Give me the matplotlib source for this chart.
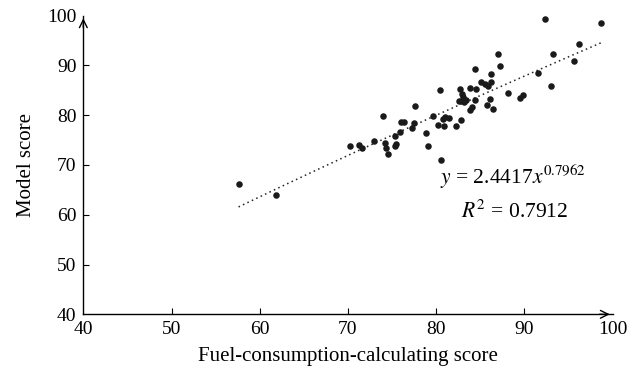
import numpy as np
import matplotlib
matplotlib.use("Agg")
import matplotlib.pyplot as plt

plt.rcParams["font.family"] = ["Liberation Serif", "DejaVu Serif"]
plt.rcParams["mathtext.fontset"] = "stix"

# fuel-consumption-calculating score (x) vs model score (y)
fuel_score = [57.6, 61.9, 70.2, 71.2, 71.6, 73.0, 74.0, 74.2, 74.3, 74.5,
              75.3, 75.4, 75.3, 75.9, 76.0, 76.4, 77.3, 77.5, 77.6, 78.9,
              79.1, 79.7, 80.2, 80.4, 80.6, 80.8, 80.9, 81.0, 81.5, 82.3,
              82.6, 82.7, 82.8, 82.9, 83.1, 83.2, 83.8, 83.8, 84.1, 84.4,
              84.4, 84.5, 85.1, 85.5, 85.8, 85.9, 86.1, 86.2, 86.2, 86.5,
              87.0, 87.2, 88.2, 89.5, 89.8, 91.6, 92.4, 93.0, 93.2, 95.6,
              96.2, 98.7, 83.4]
model_score = [66.2, 64.0, 73.7, 74.1, 73.4, 74.9, 79.9, 74.5, 73.3, 72.2,
               75.9, 74.3, 73.8, 76.6, 78.7, 78.7, 77.4, 78.4, 81.8, 76.4,
               73.9, 79.8, 78.0, 85.0, 70.9, 79.2, 77.9, 79.6, 79.4, 77.8,
               82.8, 85.2, 79.0, 84.2, 83.6, 82.7, 81.0, 85.4, 81.7, 89.3,
               83.0, 85.2, 86.7, 86.2, 82.0, 85.8, 83.2, 88.3, 86.6, 81.2,
               92.3, 89.9, 84.4, 83.4, 84.0, 88.5, 99.4, 85.8, 92.3, 90.9,
               94.2, 98.6, 83.0]

# power trendline y = a * x^b
fit_a = 2.4417
fit_b = 0.7962

fig = plt.figure(figsize=(6.27, 3.79), dpi=100)
ax = fig.add_axes([0.1329, 0.1707, 0.8440, 0.7883])

ax.scatter(fuel_score, model_score, s=22, color="#1a1a1a", zorder=3, linewidths=0)

xs = np.linspace(min(fuel_score), max(fuel_score), 200)
ax.plot(xs, fit_a * xs ** fit_b, color="#222222", lw=1.1, ls=(0, (1, 2.2)), zorder=2)

ax.set_xlim(40, 100)
ax.set_ylim(40, 100)
ax.set_xticks(range(40, 101, 10))
ax.set_yticks(range(40, 101, 10))
ax.tick_params(direction="in", length=4, width=0.8, labelsize=14, pad=5)

# no tick marks at the axis origin or under the arrow heads
for axis in [ax.xaxis, ax.yaxis]:
    ticks = axis.get_major_ticks()
    for t in (ticks[0], ticks[-1]):
        t.tick1line.set_visible(False)

for side in ["top", "right"]:
    ax.spines[side].set_visible(False)
for side in ["left", "bottom"]:
    ax.spines[side].set_linewidth(1.0)

# open arrow heads at the ends of both axes
ax.annotate("", xy=(1.0, 0), xytext=(0.97, 0), xycoords="axes fraction",
            arrowprops=dict(arrowstyle="->", lw=1.0, color="black", mutation_scale=14))
ax.annotate("", xy=(0, 1.0), xytext=(0, 0.95), xycoords="axes fraction",
            arrowprops=dict(arrowstyle="->", lw=1.0, color="black", mutation_scale=14))

ax.set_xlabel("Fuel-consumption-calculating score", fontsize=15, labelpad=6)
ax.set_ylabel("Model score", fontsize=15, labelpad=8)

ax.text(88.7, 67.6, r"$y$ = 2.4417$x^{0.7962}$", fontsize=15.5, ha="center", va="center")
ax.text(88.9, 60.7, r"$R^2$ = 0.7912", fontsize=15.5, ha="center", va="center")

fig.savefig("out.png", dpi=100)
